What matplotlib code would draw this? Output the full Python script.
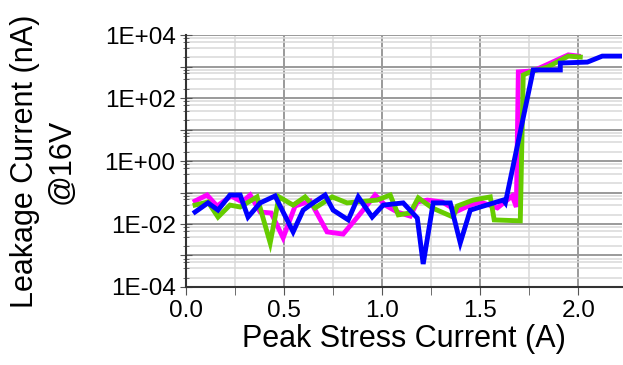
import numpy as np
import matplotlib.pyplot as plt
from matplotlib.ticker import LogLocator, FuncFormatter, MultipleLocator

plt.rcParams['font.family'] = ['Liberation Sans', 'DejaVu Sans']

# Peak stress current (A) and leakage current (nA) for three devices
x_magenta = [0.046, 0.107, 0.158, 0.230, 0.286, 0.327, 0.378, 0.434, 0.495, 0.556,
             0.633, 0.719, 0.801, 0.878, 0.964, 1.015, 1.077, 1.143, 1.179, 1.230,
             1.306, 1.383, 1.449, 1.500, 1.587, 1.663, 1.684, 1.694, 1.770, 1.949, 2.000]
logy_magenta = [-1.27, -1.08, -1.43, -1.11, -1.30, -1.08, -1.62, -1.65, -2.44, -1.43,
                -1.27, -2.25, -2.32, -1.75, -1.08, -1.40, -1.62, -1.75, -1.30, -1.24,
                -1.30, -1.59, -1.40, -1.30, -1.49, -1.11, -1.46, 2.83, 2.86, 3.37, 3.33]

x_green = [0.046, 0.112, 0.163, 0.224, 0.276, 0.362, 0.429, 0.474, 0.546, 0.607,
           0.658, 0.745, 0.821, 0.872, 0.974, 1.041, 1.082, 1.143, 1.184, 1.255,
           1.362, 1.383, 1.464, 1.551, 1.571, 1.704, 1.719, 1.755, 1.842, 1.949, 2.010]
logy_green = [-1.40, -1.30, -1.78, -1.40, -1.46, -1.14, -2.60, -1.14, -1.40, -1.14,
              -1.49, -1.14, -1.33, -1.30, -1.24, -1.08, -1.71, -1.65, -1.17, -1.49,
              -1.78, -1.43, -1.24, -1.14, -1.87, -1.90, 2.73, 2.83, 2.98, 3.33, 3.30]

x_blue = [0.046, 0.112, 0.163, 0.224, 0.276, 0.316, 0.378, 0.454, 0.495, 0.546,
          0.597, 0.648, 0.709, 0.750, 0.827, 0.878, 0.949, 1.005, 1.107, 1.179,
          1.209, 1.260, 1.347, 1.398, 1.449, 1.500, 1.617, 1.628, 1.770, 1.908,
          1.908, 2.046, 2.122, 2.214]
logy_blue = [-1.62, -1.33, -1.56, -1.08, -1.08, -1.78, -1.33, -1.11, -1.62, -2.25,
             -1.56, -1.33, -1.08, -1.56, -1.87, -1.14, -1.78, -1.40, -1.33, -1.81,
             -3.27, -1.33, -1.33, -2.60, -1.56, -1.46, -1.24, -1.33, 2.89, 2.89,
             3.11, 3.14, 3.33, 3.33]

y_magenta = 10.0 ** np.array(logy_magenta)
y_green = 10.0 ** np.array(logy_green)
y_blue = 10.0 ** np.array(logy_blue)

fig = plt.figure(figsize=(6.23, 3.65), dpi=100)
ax = fig.add_axes([0.2986, 0.2137, 0.699, 0.6904])

ax.plot(x_magenta, y_magenta, color="#ff00ff", lw=3.5, solid_joinstyle="miter")
ax.plot(x_green, y_green, color="#66cc00", lw=3.5, solid_joinstyle="miter")
ax.plot(x_blue, y_blue, color="#0000ff", lw=3.5, solid_joinstyle="miter")

ax.set_yscale("log")
ax.set_xlim(0, 2.22)
ax.set_ylim(1e-4, 1e4)

# y: grid every decade, labels every other decade
ax.yaxis.set_major_locator(LogLocator(base=10, numticks=20))
ax.yaxis.set_minor_locator(LogLocator(base=10, subs=[2, 4, 6, 8], numticks=100))


def fmt(v, pos):
    e = int(round(np.log10(v)))
    if e % 2:
        return ""
    return "1E%+03d" % e


ax.yaxis.set_major_formatter(FuncFormatter(fmt))
ax.xaxis.set_major_locator(MultipleLocator(0.5))
ax.xaxis.set_minor_locator(MultipleLocator(0.25))
ax.xaxis.set_major_formatter(FuncFormatter(lambda v, p: "%.1f" % v))

ax.grid(True, which="major", color="#9a9a9a", lw=1.4)
ax.grid(True, which="minor", color="#d8d8d8", lw=1.1)
ax.set_axisbelow(True)

for s in ["top", "right"]:
    ax.spines[s].set_visible(False)
for s in ["left", "bottom"]:
    ax.spines[s].set_color("#333333")
    ax.spines[s].set_linewidth(1.5)

ax.tick_params(axis="both", which="major", labelsize=17.5, colors="black")
ax.tick_params(axis="y", which="both", direction="inout", length=8, color="#555555")
ax.tick_params(axis="y", which="minor", length=5)
ax.tick_params(axis="x", which="both", direction="out", length=6, color="#555555")

ax.set_xlabel("Peak Stress Current (A)", fontsize=22, labelpad=1)
ax.set_ylabel("Leakage Current (nA)\n@16V", fontsize=22, linespacing=1.3, labelpad=20)

plt.savefig("out.png", dpi=100)
plt.close()
